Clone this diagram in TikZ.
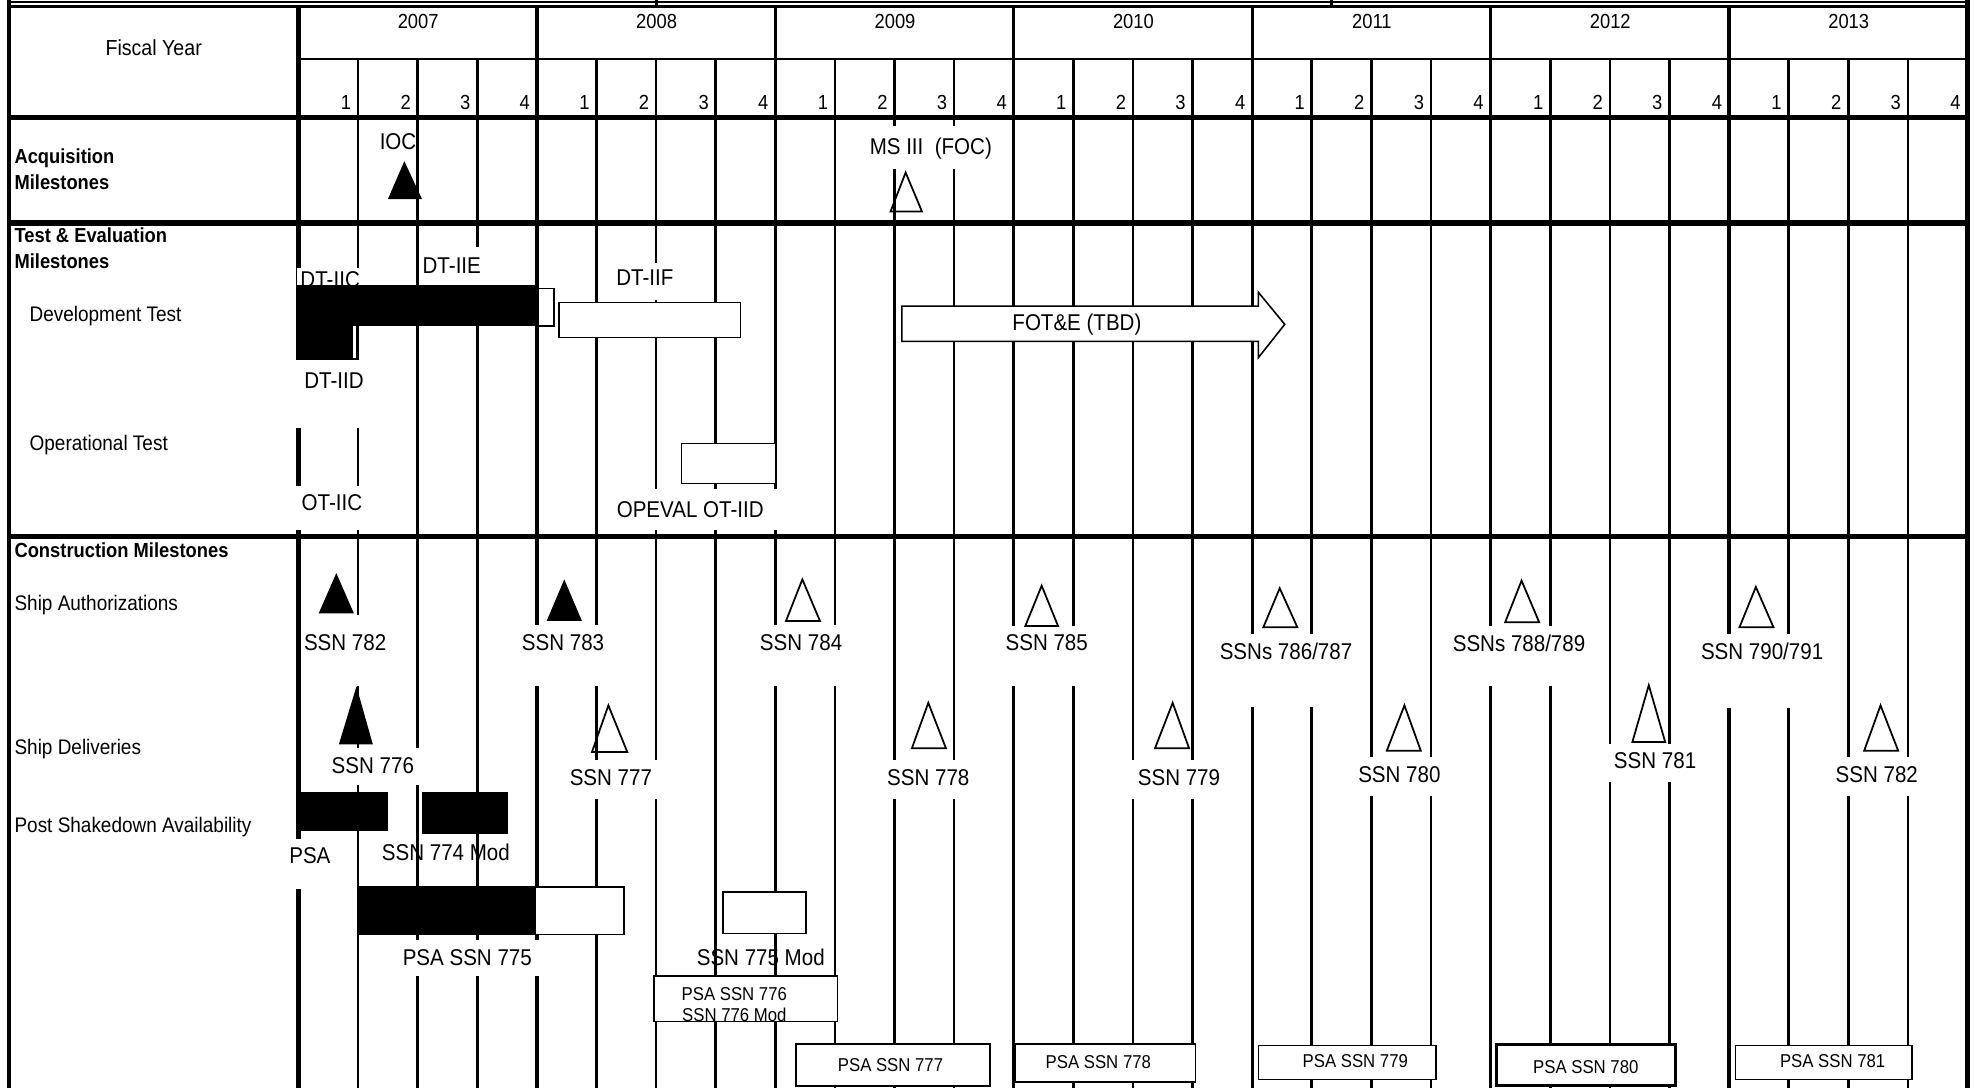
\documentclass[tikz,border=0pt]{standalone}
\usepackage{fontspec}
\setmainfont{Liberation Sans}[FakeStretch=0.9]
\begin{document}
\begin{tikzpicture}[x=0.0126cm,y=-0.0126cm,
  gridline/.style={line width=0.75pt},
  yearline/.style={line width=0.95pt},
  rowline/.style={line width=1.5pt},
  frameline/.style={line width=1.2pt},
  boxd/.style={draw,line width=0.45pt,fill=white},
  blackbar/.style={fill=black},
  opentri/.style={draw,line width=0.5pt,line join=miter},
  filltri/.style={fill=black},
  cover/.style={fill=white},
  tbig/.style={font=\fontsize{6.5pt}{7.5pt}\selectfont,inner sep=0pt,text height=4.65pt,text depth=0pt},
  tcat/.style={font=\fontsize{6pt}{7pt}\selectfont,inner sep=0pt,text height=4.3pt,text depth=0pt,anchor=west},
  tbold/.style={font=\bfseries\fontsize{5.8pt}{7pt}\selectfont,inner sep=0pt,text height=4.15pt,text depth=0pt,anchor=west},
  thdr/.style={font=\fontsize{5.8pt}{7pt}\selectfont,inner sep=0pt,text height=4.15pt,text depth=0pt},
  tsml/.style={font=\fontsize{5.3pt}{6pt}\selectfont,inner sep=0pt,text height=3.8pt,text depth=0pt},
]
\useasboundingbox (0,0) rectangle (1568,864);
\clip (0,0) rectangle (1568,864);

% ---------- top strip (previous table row, cut off)
\draw[line width=0.4pt] (7,1.5) -- (1562,1.5);
\draw[gridline] (521,0) -- (521,5) (1057,0) -- (1057,5);

% ---------- grid
\draw[line width=0.9pt] (7,5) -- (1562,5);
\draw[line width=0.6pt] (237,47) -- (1562,47);
\foreach \k in {1,2,3,5,6,7,9,10,11,13,14,15,17,18,19,21,22,23,25,26,27}
  \draw[gridline] ({237+47.3214*\k},47) -- ({237+47.3214*\k},864);
\foreach \k in {4,8,...,24}
  \draw[yearline] ({237+47.3214*\k},5) -- ({237+47.3214*\k},864);
\draw[frameline] (7,0) -- (7,864);
\draw[frameline] (237,5) -- (237,864);
\draw[frameline] (1562,0) -- (1562,864);

% ---------- header text
\node[thdr,font=\fontsize{6.2pt}{7pt}\selectfont,text height=4.44pt] (fy) at (122,38) {Fiscal Year};
\foreach \i in {0,...,6} {
  \pgfmathtruncatemacro\yv{2007+\i}
  \node[thdr] (year\yv) at ({332+189.286*\i},17) {\yv};
}
\foreach \k in {1,...,28} {
  \pgfmathtruncatemacro\qn{mod(\k-1,4)+1}
  \node[thdr,anchor=east] (qtr\k) at ({237+47.3214*\k-5},81) {\qn};
}

% ---------- row labels
\node[tbold] (acq1) at (11,124) {Acquisition};
\node[tbold] (acq2) at (11,145) {Milestones};
\node[tbold] (te1) at (11,187) {Test \& Evaluation};
\node[tbold] (te2) at (11,207) {Milestones};
\node[tcat] (devtest) at (23,249) {Development Test};
\node[tcat] (optest) at (23,352) {Operational Test};
\node[tbold] (constr) at (11,437) {Construction Milestones};
\node[tcat] (shipauth) at (11,479) {Ship Authorizations};
\node[tcat] (shipdel) at (11,593) {Ship Deliveries};
\node[tcat] (psarow) at (11,655) {Post Shakedown Availability};

% ---------- white covers behind labels
\fill[cover] (688,100) rectangle (792,134);   % MS III
\fill[cover] (236,213) rectangle (295,226);   % DT-IIC
\fill[cover] (333,196) rectangle (420,226);   % DT-IIE
\fill[cover] (482,209) rectangle (545,238);   % DT-IIF
\fill[cover] (235,286) rectangle (296,340);   % DT-IID
\fill[cover] (235,386) rectangle (296,421);   % OT-IIC
\fill[cover] (480,388) rectangle (620,421);   % OPEVAL
\fill[cover] (240,488) rectangle (312,545);   % SSN 782
\fill[cover] (412,496) rectangle (485,545);   % SSN 783
\fill[cover] (600,496) rectangle (672,545);   % SSN 784
\fill[cover] (795,497) rectangle (866,545);   % SSN 785
\fill[cover] (966,503) rectangle (1076,561);  % SSNs 786/787
\fill[cover] (1150,497) rectangle (1262,545); % SSNs 788/789
\fill[cover] (1348,503) rectangle (1451,562); % SSN 790/791
\fill[cover] (262,594) rectangle (338,623);   % SSN 776
\fill[cover] (450,603) rectangle (522,634);   % SSN 777
\fill[cover] (700,603) rectangle (772,634);   % SSN 778
\fill[cover] (898,603) rectangle (972,634);   % SSN 779
\fill[cover] (1076,601) rectangle (1146,632); % SSN 780
\fill[cover] (1276,591) rectangle (1350,621); % SSN 781
\fill[cover] (1455,601) rectangle (1525,632); % SSN 782 delivery
\fill[cover] (226,666) rectangle (268,706);   % PSA
\fill[cover] (292,746) rectangle (468,775);   % PSA SSN 775

% ---------- labels on the chart
\node[tbig] (ioc) at (316,112) {IOC};
\node[tbig] (ms3) at (739,116) {MS III\ \ (FOC)};
\node[tbig,anchor=west] (dtiic) at (238,222) {DT-IIC};
\node[tbig,anchor=west] (dtiie) at (335,211) {DT-IIE};
\node[tbig] (dtiif) at (512,220) {DT-IIF};
\node[tbig,anchor=west] (dtiid) at (241,302) {DT-IID};
\node[tbig,anchor=west] (otiic) at (239,399) {OT-IIC};
\node[tbig] (opeval) at (548,404) {OPEVAL OT-IID};
\node[tbig] (a782) at (274,510) {SSN 782};
\node[tbig] (a783) at (447,510) {SSN 783};
\node[tbig] (a784) at (636,510) {SSN 784};
\node[tbig] (a785) at (831,510) {SSN 785};
\node[tbig] (a786) at (1021,517) {SSNs 786/787};
\node[tbig] (a788) at (1206,511) {SSNs 788/789};
\node[tbig] (a790) at (1399,517) {SSN 790/791};
\node[tbig] (d776) at (296,608) {SSN 776};
\node[tbig] (d777) at (485,617) {SSN 777};
\node[tbig] (d778) at (737,617) {SSN 778};
\node[tbig] (d779) at (936,617) {SSN 779};
\node[tbig] (d780) at (1111,615) {SSN 780};
\node[tbig] (d781) at (1314,604) {SSN 781};
\node[tbig] (d782) at (1490,615) {SSN 782};
\node[tbig] (psa1) at (246,679) {PSA};
\node[tbig] (m774) at (354,677) {SSN 774 Mod};
\node[tbig] (p775) at (371,760) {PSA SSN 775};
\node[tbig] (m775) at (604,760) {SSN 775 Mod};

% ---------- test bars
\draw[boxd] (237,230) rectangle (283,285);
\fill[blackbar] (237,226) rectangle (427,259);
\fill[blackbar] (237,226) rectangle (280,284);
\draw[boxd] (427,229) rectangle (440,259);
\draw[boxd] (444,240) rectangle (588,268);
\draw[boxd] (716,243) -- (999,243) -- (999,232) -- (1020,257.5) -- (999,284) -- (999,271) -- (716,271) -- cycle;
\node[tbig] (fote) at (855,256) {FOT\&E (TBD)};
\draw[boxd] (541,352) rectangle (616,384);

% ---------- construction bars
\fill[blackbar] (237,629) rectangle (308,660);
\fill[blackbar] (335,629) rectangle (403,662);
\draw[boxd] (285,704) rectangle (495.5,742);
\fill[blackbar] (285,704) rectangle (425.5,742);
\draw[boxd] (574,708) rectangle (640,741);

\draw[boxd] (519,775) rectangle (665,811);
\node[tsml] (p776a) at (583,789) {PSA SSN 776};
\node[tsml] (p776b) at (583,806) {SSN 776 Mod};
\draw[boxd] (632,829) rectangle (786,862);
\node[tsml] (p777) at (707,845) {PSA SSN 777};
\draw[boxd] (806,829) rectangle (949,859);
\node[tsml] (p778) at (872,843) {PSA SSN 778};
\draw[boxd] (999,830) rectangle (1140,857);
\node[tsml] (p779) at (1076,842) {PSA SSN 779};
\draw[boxd,line width=0.8pt] (1188,829) rectangle (1330,862);
\node[tsml] (p780) at (1259,847) {PSA SSN 780};
\draw[boxd] (1378,830) rectangle (1518,857);
\node[tsml] (p781) at (1455,842) {PSA SSN 781};

% ---------- milestone triangles
\fill[filltri] (308,158) -- (335,158) -- (321,128) -- cycle;
\draw[opentri] (707,168) -- (732,168) -- (719,137) -- cycle;
\fill[filltri] (253,487) -- (281,487) -- (267,455) -- cycle;
\fill[filltri] (434,493) -- (462,493) -- (448,460) -- cycle;
\draw[opentri] (624,493) -- (651,493) -- (637,460) -- cycle;
\draw[opentri] (814,497) -- (840,497) -- (827,465) -- cycle;
\draw[opentri] (1003,498) -- (1030,498) -- (1016,467) -- cycle;
\draw[opentri] (1195,494) -- (1222,494) -- (1208,461) -- cycle;
\draw[opentri] (1381,498) -- (1408,498) -- (1394,466) -- cycle;
\fill[filltri] (269,591) -- (296,591) -- (283,545) -- cycle;
\draw[opentri] (470,597) -- (498,597) -- (483,560) -- cycle;
\draw[opentri] (724,594) -- (751,594) -- (737,558) -- cycle;
\draw[opentri] (917,594) -- (944,594) -- (931,558) -- cycle;
\draw[opentri] (1101,596) -- (1128,596) -- (1115,560) -- cycle;
\draw[opentri] (1296,589) -- (1322,589) -- (1309,544) -- cycle;
\draw[opentri] (1480,596) -- (1507,596) -- (1493,560) -- cycle;

% ---------- thick row separators
\draw[rowline] (7,93) -- (1562,93);
\draw[rowline] (7,177) -- (1562,177);
\draw[rowline] (7,426) -- (1562,426);
\end{tikzpicture}
\end{document}
